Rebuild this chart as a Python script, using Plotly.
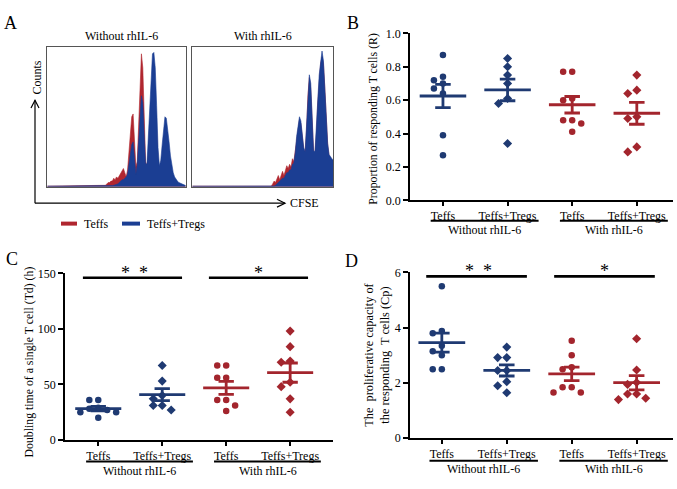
import statistics
import plotly.graph_objects as go

W, H = 677, 489
FONT = "Liberation Serif"
BLUE = "#1f3a72"
RED = "#a3252d"
HBLUE = "#1b3e93"
HRED = "#b0262f"

# ---- panel A: CFSE histograms (counts per channel, box height = 100) ----
chan_wo = [0] + list(range(40, 101))
red_wo = [0.4,
  0.5, 0.6, 1, 2, 3, 3, 4, 4, 6, 5,
  7, 6, 8, 10, 12, 13, 10, 7, 12, 25,
  42, 50, 52, 35, 14, 18, 45, 80, 95, 85,
  40, 18, 14, 25, 45, 55, 62, 66, 60, 40,
  18, 12, 14, 22, 30, 34, 33, 28, 20, 14,
  9, 6, 4, 3, 2, 2, 1.5, 1, 1, 0.5, 0.3]
blue_wo = [0.4,
  0.3, 0.3, 0.3, 0.4, 0.4, 0.5, 0.6, 0.8, 1, 1.2,
  1.5, 2, 3, 4, 5, 5, 6, 7, 9, 15,
  24, 30, 32, 22, 9, 16, 34, 55, 65, 60,
  34, 17, 16, 36, 62, 85, 95, 96, 85, 58,
  28, 15, 19, 30, 42, 50, 49, 42, 32, 22,
  15, 10, 7, 5, 4, 3, 2.5, 2, 1.5, 1, 0.8]

chan_w = [0] + list(range(50, 101))
red_w = [0.4,
  0.3, 0.3, 0.3, 0.4, 0.4, 0.4, 0.4, 2, 4, 3,
  6, 8, 5, 9, 11, 8, 12, 15, 13, 16,
  14, 20, 18, 25, 35, 42, 48, 45, 35, 27,
  24, 40, 65, 78, 70, 45, 25, 24, 38, 60,
  78, 88, 93, 88, 70, 45, 30, 22, 20, 19, 18]
blue_w = [0.4,
  0.3, 0.3, 0.3, 0.3, 0.3, 0.3, 0.4, 0.4, 0.5, 1,
  2, 3, 4, 5, 6, 6, 8, 10, 10, 12,
  12, 16, 17, 24, 36, 44, 50, 47, 36, 28,
  25, 42, 68, 80, 74, 48, 26, 25, 40, 62,
  80, 90, 97, 90, 72, 47, 31, 23, 21, 20, 19]

# ---- panels B-D: individual values ----
categories = ["Teffs", "Teffs+Tregs", "Teffs", "Teffs+Tregs"]
groups = ["Without rhIL-6", "With rhIL-6"]

b_teffs_wo = [0.87, 0.74, 0.72, 0.70, 0.67, 0.64, 0.39, 0.27]
b_tt_wo = [0.85, 0.80, 0.75, 0.70, 0.61, 0.58, 0.34]
b_teffs_w = [0.77, 0.77, 0.61, 0.60, 0.48, 0.48, 0.46, 0.41]
b_tt_w = [0.75, 0.66, 0.64, 0.50, 0.49, 0.32, 0.29]
b_ticks = [0, 0.2, 0.4, 0.6, 0.8, 1.0]

c_teffs_wo = [36, 36, 29, 28, 27, 25, 25, 20]
c_tt_wo = [67, 53, 40, 37, 31, 31, 27]
c_teffs_w = [67, 67, 56, 56, 36, 36, 31, 26]
c_tt_w = [98, 84, 71, 70, 52, 48, 37, 25]
c_ticks = [0, 50, 100, 150]

d_teffs_wo = [5.50, 3.88, 3.80, 3.35, 3.15, 3.00, 2.50, 2.50]
d_tt_wo = [3.30, 2.92, 2.92, 2.45, 2.45, 2.05, 1.90, 1.65]
d_teffs_w = [3.53, 3.00, 2.57, 2.50, 1.85, 1.85, 1.66, 1.66]
d_tt_w = [3.60, 2.47, 2.02, 1.95, 1.60, 1.60, 1.45, 1.40]
d_ticks = [0, 2, 4, 6]

sig_c = 146
sig_d = 5.86


def px(x):
  return x/W


def py(y):
  return 1 - y/H


def swarm(vals, tol, step=0.14):
  """Simple beeswarm: spread points that overlap vertically."""
  placed = []
  xs = [0]*len(vals)
  for i in sorted(range(len(vals)), key=lambda k: -vals[k]):
    for slot in [0, -1, 1, -2, 2, -3, 3]:
      if all(s != slot or abs(vals[i]-y) >= tol for y, s in placed):
        break
    placed.append((vals[i], slot))
    xs[i] = slot*step
  return xs


fig = go.Figure()

# histograms
for xa, chan, red, blue in [("x", chan_wo, red_wo, blue_wo), ("x2", chan_w, red_w, blue_w)]:
  ya = xa.replace("x", "y")
  fig.add_trace(go.Scatter(x=chan, y=red, mode="lines", fill="tozeroy",
    line=dict(color=HRED, width=0.6), fillcolor=HRED, xaxis=xa, yaxis=ya))
  fig.add_trace(go.Scatter(x=chan, y=blue, mode="lines", fill="tozeroy",
    line=dict(color=HBLUE, width=0.6), fillcolor=HBLUE, xaxis=xa, yaxis=ya))

# dot plots
panels = [
  ("x3", "y3", [b_teffs_wo, b_tt_wo, b_teffs_w, b_tt_w], 1.0),
  ("x4", "y4", [c_teffs_wo, c_tt_wo, c_teffs_w, c_tt_w], 150),
  ("x5", "y5", [d_teffs_wo, d_tt_wo, d_teffs_w, d_tt_w], 6),
]
colors = [BLUE, BLUE, RED, RED]
symbols = ["circle", "diamond", "circle", "diamond"]
for xa, ya, series, ymax in panels:
  for i, vals in enumerate(series):
    offs = swarm(vals, tol=0.04*ymax)
    fig.add_trace(go.Scatter(
      x=[i+o for o in offs], y=vals, mode="markers",
      marker=dict(symbol=symbols[i], color=colors[i], size=7 if symbols[i]=="diamond" else 6.5,
                  line=dict(width=0)),
      xaxis=xa, yaxis=ya))
    m = statistics.mean(vals)
    sem = statistics.stdev(vals)/len(vals)**0.5
    lx = [i-0.36, i+0.36, None, i-0.12, i+0.12, None, i-0.12, i+0.12, None, i, i]
    ly = [m, m, None, m+sem, m+sem, None, m-sem, m-sem, None, m-sem, m+sem]
    fig.add_trace(go.Scatter(x=lx, y=ly, mode="lines",
      line=dict(color=colors[i], width=2.8), xaxis=xa, yaxis=ya))

# significance bars
for xa, ya, yv in [("x4", "y4", sig_c), ("x5", "y5", sig_d)]:
  fig.add_trace(go.Scatter(x=[-0.24, 1.31, None, 1.73, 3.28], y=[yv, yv, None, yv, yv],
    mode="lines", line=dict(color="black", width=2.6), xaxis=xa, yaxis=ya))

shapes = []
annotations = []


def text(x, y, s, size=12, xref="paper", yref="paper", xanchor="center", yanchor="middle", **kw):
  annotations.append(dict(x=x, y=y, text=s, xref=xref, yref=yref, showarrow=False,
                          xanchor=xanchor, yanchor=yanchor,
                          font=dict(family=FONT, size=size, color="black"), **kw))


# panel letters
for letter, x, y in [("A", 11, 16), ("B", 353, 16), ("C", 12, 259), ("D", 352, 261)]:
  text(px(x), py(y), letter, size=18)

# panel A decorations
text(px(121.7), py(30), "Without rhIL-6", size=12)
text(px(263), py(30), "With rhIL-6", size=12)
text(px(36.7), py(73), "Counts", size=12, textangle=-90)
text(px(288), py(202), "CFSE", size=12, xanchor="left")
arrow = dict(type="path", xref="paper", yref="paper", line=dict(color="black", width=1.2))
shapes.append(dict(arrow, path=f"M {px(35)} {py(202)} L {px(35)} {py(96)}"))
shapes.append(dict(arrow, path=f"M {px(31)} {py(104)} L {px(35)} {py(96)} L {px(39)} {py(104)}"))
shapes.append(dict(arrow, path=f"M {px(35)} {py(202)} L {px(285)} {py(202)}"))
shapes.append(dict(arrow, path=f"M {px(277)} {py(198)} L {px(285)} {py(202)} L {px(277)} {py(206)}"))
# legend
shapes.append(dict(type="line", xref="paper", yref="paper", x0=px(61), x1=px(77), y0=py(223), y1=py(223),
                   line=dict(color=HRED, width=4)))
shapes.append(dict(type="line", xref="paper", yref="paper", x0=px(122), x1=px(140), y0=py(223), y1=py(223),
                   line=dict(color=HBLUE, width=4)))
text(px(82), py(223), "Teffs", size=12, xanchor="left")
text(px(145), py(223), "Teffs+Tregs", size=12, xanchor="left")

# y axis titles
text(px(373), py(115), "Proportion of responding T cells (R)", size=11.8, textangle=-90)
text(px(29), py(366), "Doubling time of a single T cell (Td) (h)", size=11.8, textangle=-90)
text(px(377), py(358), "The  proliferative capacity of<br>the responding  T cells (Cp)", size=12.3,
     textangle=-90)

# group underlines and labels
for xa, yline, ylab in [("x3", 220, 230), ("x4", 468, 478), ("x5", 467, 476)]:
  for (x0, x1), xc, g in zip([(-0.19, 1.48), (1.81, 3.48)], [0.64, 2.65], groups):
    shapes.append(dict(type="line", xref=xa, yref="paper", x0=x0, x1=x1, y0=py(yline), y1=py(yline),
                       line=dict(color="black", width=2)))
    text(xc, py(ylab), g, size=12, xref=xa)

# stars
for xa, ya, yv in [("x4", "y4", sig_c), ("x5", "y5", sig_d)]:
  text(0.56, yv, "*  *", size=18, xref=xa, yref=ya, yanchor="bottom", yshift=-7)
  text(2.5, yv, "*", size=18, xref=xa, yref=ya, yanchor="bottom", yshift=-7)

box = dict(showline=True, mirror=True, linecolor="#555", linewidth=1, showgrid=False,
           zeroline=False, showticklabels=False, ticks="")
dot_x = dict(showline=True, linecolor="black", linewidth=1.5, showgrid=False, zeroline=False,
             tickmode="array", tickvals=[0, 1, 2, 3], ticktext=categories, ticks="outside",
             ticklen=4, tickwidth=1.5, tickcolor="black", tickfont=dict(family=FONT, size=12))
dot_y = dict(showline=True, linecolor="black", linewidth=1.5, showgrid=False, zeroline=False,
             ticks="outside", ticklen=5, tickwidth=1.5, tickcolor="black", tickmode="array",
             tickfont=dict(family=FONT, size=12), ticklabeloverflow="allow")

fig.update_layout(
  width=W, height=H, autosize=False,
  margin=dict(l=0, r=0, t=0, b=0),
  paper_bgcolor="white", plot_bgcolor="white",
  showlegend=False,
  font=dict(family=FONT, size=12, color="black"),
  xaxis=dict(box, domain=[px(47.3), px(185.7)], range=[0, 100]),
  yaxis=dict(box, domain=[py(185), py(41)], range=[0, 100]),
  xaxis2=dict(box, domain=[px(192.3), px(333.3)], range=[0, 100], anchor="y2"),
  yaxis2=dict(box, domain=[py(185), py(41)], range=[0, 100], anchor="x2"),
  xaxis3=dict(dot_x, domain=[px(410), px(673)], range=[-0.51, 3.56], anchor="y3"),
  yaxis3=dict(dot_y, domain=[py(199), py(27)], range=[0, 1.001], tickvals=b_ticks,
              ticktext=[f"{v:.1f}" for v in b_ticks], anchor="x3"),
  xaxis4=dict(dot_x, domain=[px(65), px(333)], range=[-0.52, 3.67], anchor="y4"),
  yaxis4=dict(dot_y, domain=[py(445.7), py(274)], range=[0, 150.2], tickvals=c_ticks,
              ticktext=[str(v) for v in c_ticks], anchor="x4"),
  xaxis5=dict(dot_x, domain=[px(410), px(673)], range=[-0.49, 3.56], anchor="y5"),
  yaxis5=dict(dot_y, domain=[py(444), py(273)], range=[0, 6.01], tickvals=d_ticks, anchor="x5"),
  shapes=shapes,
  annotations=annotations,
)

# drop the default page margin, then redraw so every label is laid out at its final place
fig.write_html("out.html", config={"displayModeBar": False},
               post_script="document.body.style.margin='0px';"
                           "var gd=document.getElementById('{plot_id}');Plotly.relayout(gd,{});")
